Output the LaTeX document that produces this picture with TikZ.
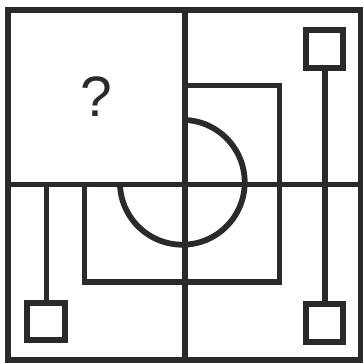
\documentclass[tikz,border=0pt]{standalone}
\usepackage{fontspec}
\setmainfont{Liberation Sans}
\begin{document}
\begin{tikzpicture}[x=1pt,y=-1pt,
  ln/.style={draw=ink,line width=5.8pt},
  sq/.style={draw=ink,line width=5.8pt,fill=white}]
\definecolor{ink}{HTML}{2B2A29}
\useasboundingbox (0,0) rectangle (362,363);
% big square (parts)
\draw[ln] (185,85.5) -- (279.5,85.5) -- (279.5,282) -- (84.5,282) -- (84.5,184.5);
% circle (three quarters)
\draw[ln] (182.3,119.9) arc[start angle=-90,end angle=180,radius=62.4];
% stems
\coordinate (trb) at (325,68);
\coordinate (brt) at (325,304);
\draw[ln] (trb) -- (brt);
\coordinate (blt) at (46.5,184.5);
\coordinate (blb) at (46.5,302);
\draw[ln] (blt) -- (blb);
% small squares
\node[sq,minimum size=37.5pt,inner sep=0pt] (sqtr) at (324.5,49) {};
\node[sq,minimum size=37.5pt,inner sep=0pt] (sqbr) at (324.5,323) {};
\node[sq,minimum size=37.5pt,inner sep=0pt] (sqbl) at (46,321.5) {};
% question cell blank
\fill[white] (8,9.7) rectangle (185,184.5);
% grid
\draw[ln] (8,9.7) rectangle (361,360.3);
\draw[ln] (185,9.7) -- (185,360.3);
\draw[ln] (8,184.5) -- (361,184.5);
\node[font=\fontsize{57}{60}\selectfont,text=ink,inner sep=0pt] (q) at (96.5,97) {?};
\end{tikzpicture}
\end{document}
